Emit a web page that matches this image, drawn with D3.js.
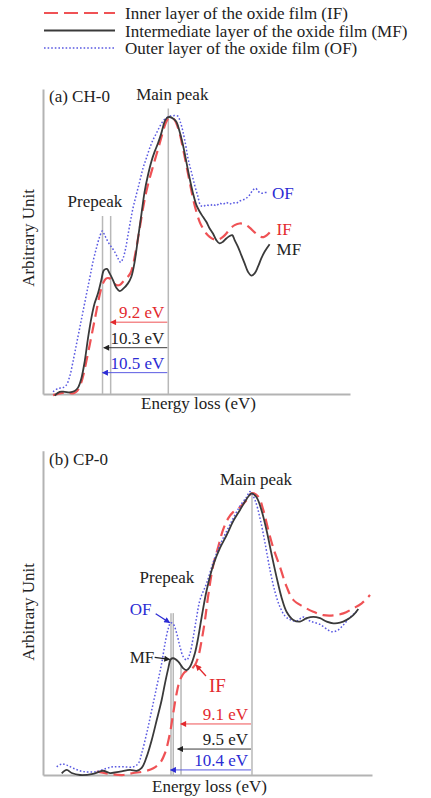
<!DOCTYPE html>
<html lang="en">
  <head>
    <meta charset="utf-8"/>
    <title>EELS prepeak / main peak</title>
    <script src="https://cdn.jsdelivr.net/npm/d3@7/dist/d3.min.js"></script>
    <style>
      body { margin: 0; background: #fff; }
      svg { display: block; }
      text { font-family: "Liberation Serif", "Times New Roman", serif; }
    </style>
  </head>
  <body>
    <div id="chart"></div>
    <script type="text/javascript">
     // ---- data (energy loss in eV, intensity normalised to the main peak) ----
     const seriesKeys = ["IF", "MF", "OF"];
     const legendLabels = ["Inner layer of the oxide film (IF)",
                           "Intermediate layer of the oxide film (MF)",
                           "Outer layer of the oxide film (OF)"];

     // (a) CH-0
     const ifA = [[1.60,-0.004],[2.66,0.002],[3.72,0.006],[4.79,0.002],[5.32,0.008],[5.85,0.026],[6.38,0.063],
                  [6.91,0.117],[7.45,0.177],[7.98,0.237],[8.51,0.297],[9.04,0.357],[9.57,0.399],[10.11,0.417],
                  [10.64,0.417],[11.17,0.405],[11.70,0.393],[12.23,0.393],[12.77,0.405],[13.30,0.417],[13.94,0.435],
                  [14.36,0.465],[14.89,0.525],[15.43,0.597],[15.96,0.670],[16.49,0.730],[17.02,0.778],[17.55,0.820],
                  [18.09,0.862],[18.62,0.904],[19.15,0.946],[19.57,0.976],[19.95,0.992],[20.37,0.997],[20.90,0.992],
                  [21.28,0.976],[21.81,0.940],[22.34,0.886],[22.87,0.826],[23.40,0.766],[23.94,0.706],[24.47,0.658],
                  [25.00,0.621],[25.53,0.597],[26.06,0.579],[26.60,0.567],[27.13,0.559],[27.66,0.555],[28.19,0.559],
                  [28.72,0.567],[29.26,0.579],[29.79,0.595],[30.59,0.609],[31.38,0.615],[32.18,0.612],[32.98,0.600],
                  [33.78,0.583],[34.57,0.569],[35.21,0.566],[35.74,0.573],[36.17,0.583]];
     const mfA = [[1.86,-0.006],[2.66,0.008],[3.46,0.008],[4.26,0.006],[5.05,0.011],[5.59,0.023],[6.12,0.056],
                  [6.65,0.117],[7.18,0.201],[7.71,0.273],[8.24,0.327],[8.78,0.363],[9.31,0.411],[9.73,0.447],
                  [10.21,0.451],[10.64,0.435],[11.17,0.411],[11.70,0.383],[12.23,0.371],[12.77,0.379],[13.56,0.399],
                  [14.10,0.423],[14.63,0.477],[15.16,0.561],[15.69,0.645],[16.22,0.730],[16.76,0.790],[17.29,0.838],
                  [17.82,0.874],[18.35,0.904],[18.88,0.940],[19.41,0.982],[19.79,0.996],[20.21,0.999],[20.85,0.992],
                  [21.28,0.982],[21.81,0.946],[22.34,0.898],[22.87,0.838],[23.40,0.778],[23.94,0.724],[24.47,0.682],
                  [25.00,0.658],[25.53,0.639],[26.06,0.621],[26.60,0.597],[27.13,0.579],[27.66,0.555],[28.19,0.543],
                  [28.72,0.549],[29.26,0.561],[29.79,0.570],[30.21,0.573],[30.59,0.555],[31.12,0.531],[31.65,0.501],
                  [32.18,0.471],[32.71,0.441],[33.24,0.427],[33.78,0.435],[34.31,0.459],[34.84,0.489],[35.37,0.513],
                  [36.17,0.540]];
     const ofA = [[1.60,0.008],[2.39,0.020],[3.19,0.023],[3.72,0.032],[4.26,0.063],[4.79,0.117],[5.32,0.177],
                  [5.85,0.237],[6.38,0.297],[6.91,0.357],[7.45,0.417],[7.98,0.477],[8.51,0.525],[9.04,0.567],
                  [9.47,0.588],[9.84,0.573],[10.37,0.549],[10.90,0.531],[11.44,0.513],[11.97,0.489],[12.39,0.475],
                  [12.77,0.489],[13.19,0.525],[13.56,0.573],[13.94,0.621],[14.36,0.670],[14.89,0.718],[15.43,0.766],
                  [15.96,0.814],[16.49,0.850],[17.02,0.886],[17.55,0.916],[18.09,0.940],[18.62,0.964],[19.15,0.984],
                  [19.68,0.996],[20.21,1.002],[21.01,1.004],[21.54,1.002],[21.91,0.982],[22.34,0.946],[22.77,0.898],
                  [23.14,0.850],[23.67,0.802],[24.20,0.754],[24.73,0.712],[25.11,0.682],[25.53,0.676],[26.06,0.682],
                  [26.60,0.679],[27.13,0.684],[27.66,0.679],[28.19,0.688],[28.72,0.684],[29.26,0.691],[29.79,0.685],
                  [30.32,0.690],[30.85,0.688],[31.38,0.696],[31.91,0.700],[32.45,0.706],[32.98,0.718],[33.51,0.736],
                  [33.94,0.742],[34.31,0.732],[34.84,0.724],[35.37,0.727],[35.74,0.727]];
     const mainPeakA = 20.0;
     const shiftsA = [9.2, 10.3, 10.5];        // IF, MF, OF
     const guidesA = [9.5, 10.8];

     // (b) CP-0
     const ifB = [[6.86,0.012],[8.55,0.004],[10.25,0.000],[11.53,0.007],[12.80,0.012],[14.08,0.024],[14.94,0.043],
                  [15.58,0.078],[16.21,0.149],[16.63,0.220],[17.07,0.291],[17.49,0.337],[18.13,0.366],[18.77,0.372],
                  [19.40,0.390],[19.83,0.420],[20.26,0.479],[20.68,0.550],[21.10,0.638],[21.74,0.745],[22.38,0.810],
                  [22.98,0.869],[23.66,0.911],[24.30,0.933],[25.15,0.950],[26.00,0.975],[26.64,0.999],[27.49,0.987],
                  [28.12,0.940],[28.76,0.869],[29.40,0.805],[30.25,0.738],[31.11,0.667],[31.95,0.621],[33.23,0.597],
                  [34.51,0.579],[35.78,0.567],[37.06,0.566],[38.34,0.573],[39.61,0.591],[40.69,0.609],[41.75,0.638]];
     const mfB = [[2.39,0.006],[3.03,0.018],[3.66,0.007],[4.72,0.000],[6.38,0.004],[7.66,0.015],[8.55,0.007],
                  [9.83,0.012],[11.11,0.018],[11.96,0.015],[12.60,0.025],[13.24,0.065],[13.88,0.124],[14.52,0.195],
                  [15.15,0.266],[15.58,0.326],[16.00,0.379],[16.30,0.410],[16.63,0.414],[17.27,0.402],[17.91,0.378],
                  [18.35,0.372],[18.77,0.384],[19.40,0.433],[19.83,0.490],[20.26,0.561],[20.90,0.656],[21.74,0.745],
                  [22.60,0.805],[23.45,0.851],[24.30,0.901],[25.15,0.940],[26.00,0.979],[26.64,0.999],[27.28,0.984],
                  [27.92,0.936],[28.56,0.865],[29.20,0.780],[29.84,0.699],[30.47,0.628],[31.11,0.578],[31.95,0.550],
                  [32.81,0.544],[33.66,0.556],[34.51,0.561],[35.36,0.556],[36.22,0.544],[37.06,0.538],[37.92,0.540],
                  [38.77,0.550],[39.61,0.567],[40.25,0.589]];
     const ofB = [[1.75,0.029],[2.39,0.039],[3.03,0.035],[3.87,0.024],[5.14,0.012],[6.86,0.012],[8.13,0.024],
                  [8.97,0.029],[10.25,0.029],[11.53,0.029],[12.17,0.041],[12.60,0.077],[13.24,0.148],[13.88,0.230],
                  [14.52,0.313],[15.15,0.396],[15.58,0.467],[16.00,0.520],[16.30,0.540],[16.63,0.535],[17.07,0.502],
                  [17.49,0.455],[17.91,0.419],[18.35,0.408],[18.77,0.432],[19.19,0.490],[19.62,0.561],[20.04,0.621],
                  [20.90,0.681],[21.74,0.755],[22.60,0.816],[23.45,0.865],[24.30,0.911],[25.15,0.954],[26.00,0.986],
                  [26.43,1.005],[27.06,0.975],[27.70,0.911],[28.34,0.823],[28.98,0.727],[29.62,0.649],[30.25,0.596],
                  [30.89,0.564],[31.53,0.551],[32.39,0.546],[33.23,0.560],[34.09,0.546],[35.36,0.534],[36.86,0.508],
                  [37.66,0.514],[38.34,0.532],[39.19,0.559],[40.04,0.579]];
     const mainPeakB = 26.68;
     const shiftsB = [9.1, 9.5, 10.4];         // IF, MF, OF
     const guidesB = [16.34, 16.63, 17.62];
     const prepeakPointsB = [19.40, 16.30, 16.30];  // where the IF / MF / OF labels point

     // ---- styles ----
     const stroke = { IF: "#ef5255", MF: "#3a3a3a", OF: "#5a5ae2" };
     const ink    = { IF: "#e32a2e", MF: "#222222", OF: "#2c2cd4" };
     const dash   = { IF: "11,6", MF: null, OF: "1.6,2" };
     const width  = { IF: 2.2, MF: 1.8, OF: 1.5 };
     const fontSize = 17;

     const svg = d3.select("#chart").append("svg")
                   .attr("width", 431)
                   .attr("height", 798);

     // arrow heads, one per colour
     const defs = svg.append("defs");
     seriesKeys.forEach(k => {
         defs.append("marker")
             .attr("id", "arrow-" + k)
             .attr("viewBox", "0 0 10 10")
             .attr("refX", 9).attr("refY", 5)
             .attr("markerWidth", 7).attr("markerHeight", 6)
             .attr("markerUnits", "userSpaceOnUse")
             .attr("orient", "auto")
             .append("path")
             .attr("d", "M0,0L10,5L0,10z")
             .attr("fill", ink[k]);
     });

     // ---- legend ----
     let legend = svg.append("g");
     seriesKeys.forEach((k, i) => {
         let yy = 13 + i * 17.5;
         legend.append("line")
               .attr("x1", 44).attr("x2", 115)
               .attr("y1", yy).attr("y2", yy)
               .attr("stroke", stroke[k])
               .attr("stroke-width", k === "OF" ? 1.5 : 2)
               .attr("stroke-dasharray", k === "IF" ? "14,6" : dash[k]);
         legend.append("text")
               .attr("x", 125).attr("y", yy + 6)
               .attr("font-size", fontSize)
               .attr("fill", "#222")
               .text(legendLabels[i]);
     });

     function drawPanel(p) {
         let x = d3.scaleLinear().domain(p.xDomain).range(p.xRange),
             y = d3.scaleLinear().domain(p.yDomain).range(p.yRange);
         let g = svg.append("g");

         // axes, no ticks
         let xAxis = g.append("g")
                      .attr("transform", `translate(0, ${p.yRange[0]})`)
                      .call(d3.axisBottom(x).tickValues([]).tickSizeOuter(0));
         let yAxis = g.append("g")
                      .attr("transform", `translate(${p.xRange[0]}, 0)`)
                      .call(d3.axisLeft(y).tickValues([]).tickSizeOuter(0));
         g.selectAll(".domain").attr("stroke", "#b3b3b3").attr("stroke-width", 2);

         // grey guide lines
         p.guides.forEach((ev, i) => {
             g.append("line")
              .attr("x1", x(ev)).attr("x2", x(ev))
              .attr("y1", y(0)).attr("y2", y(p.guideTops[i]))
              .attr("stroke", "#b8b8b8").attr("stroke-width", 1.5);
         });
         g.append("line")
          .attr("x1", x(p.main)).attr("x2", x(p.main))
          .attr("y1", y(0)).attr("y2", y(p.mainTop))
          .attr("stroke", "#b8b8b8").attr("stroke-width", 1.5);

         // energy separation arrows
         p.shifts.forEach((d, i) => {
             let k = seriesKeys[i];
             g.append("line")
              .attr("x1", x(p.main) - 1).attr("x2", x(p.main - d))
              .attr("y1", y(p.levels[i])).attr("y2", y(p.levels[i]))
              .attr("stroke", stroke[k])
              .attr("stroke-width", 1)
              .attr("marker-end", `url(#arrow-${k})`);
             g.append("text")
              .attr("x", x(p.main) - 4)
              .attr("y", y(p.levels[i]) - 4)
              .attr("text-anchor", "end")
              .attr("font-size", fontSize)
              .attr("fill", ink[k])
              .text(d.toFixed(1) + " eV");
         });

         // spectra
         let line = d3.line()
                      .x(d => x(d[0]))
                      .y(d => y(d[1]))
                      .curve(d3.curveCatmullRom.alpha(0.5));
         ["IF", "OF", "MF"].forEach(k => {
             g.append("path")
              .datum(p.series[k])
              .attr("fill", "none")
              .attr("stroke", stroke[k])
              .attr("stroke-width", width[k])
              .attr("stroke-dasharray", dash[k])
              .attr("d", line);
         });

         // texts
         g.append("text").attr("x", p.xRange[0] + 6).attr("y", p.titleY)
          .attr("font-size", fontSize).attr("fill", "#222").text(p.title);
         g.append("text").attr("x", x(p.main) + 4).attr("y", y(p.mainTop) - 8)
          .attr("text-anchor", "middle")
          .attr("font-size", fontSize).attr("fill", "#222").text("Main peak");
         g.append("text").attr("x", x(p.prepeakLabel[0])).attr("y", y(p.prepeakLabel[1]))
          .attr("text-anchor", "middle")
          .attr("font-size", fontSize).attr("fill", "#222").text("Prepeak");
         g.append("text")
          .attr("x", (p.xRange[0] + p.xRange[1]) / 2 + 2)
          .attr("y", p.yRange[0] + p.xLabelGap)
          .attr("text-anchor", "middle")
          .attr("font-size", fontSize).attr("fill", "#222").text("Energy loss (eV)");
         g.append("text")
          .attr("transform", `translate(34, ${p.yLabelY}) rotate(-90)`)
          .attr("text-anchor", "middle")
          .attr("font-size", fontSize).attr("fill", "#222").text("Arbitrary Unit");

         p.curveLabels(g, x, y);
     }

     drawPanel({
         title: "(a) CH-0", titleY: 102,
         xDomain: [0, 49], xRange: [43, 350],
         yDomain: [0, 1.1], yRange: [394, 89],
         series: { IF: ifA, MF: mfA, OF: ofA },
         main: mainPeakA, mainTop: 1.03,
         guides: guidesA, guideTops: [0.642, 0.642],
         shifts: shiftsA, levels: [0.259, 0.167, 0.077],
         prepeakLabel: [8.3, 0.674],
         xLabelGap: 15, yLabelY: 238,
         curveLabels: (g, x, y) => {
             // labels at the right end of each spectrum
             let offs = { OF: [5, 7], IF: [7, 3], MF: [7, 11] };
             seriesKeys.forEach(k => {
                 let s = { IF: ifA, MF: mfA, OF: ofA }[k],
                     last = s[s.length - 1];
                 g.append("text")
                  .attr("x", x(last[0]) + offs[k][0])
                  .attr("y", y(last[1]) + offs[k][1])
                  .attr("font-size", fontSize)
                  .attr("fill", ink[k])
                  .text(k);
             });
         }
     });

     drawPanel({
         title: "(b) CP-0", titleY: 465,
         xDomain: [0, 42], xRange: [43, 372],
         yDomain: [0, 1.15], yRange: [775, 450.7],
         series: { IF: ifB, MF: mfB, OF: ofB },
         main: mainPeakB, mainTop: 1.0,
         guides: guidesB, guideTops: [0.574, 0.574, 0.39],
         shifts: shiftsB, levels: [0.181, 0.092, 0.018],
         prepeakLabel: [15.83, 0.681],
         xLabelGap: 17, yLabelY: 612,
         curveLabels: (g, x, y) => {
             // [text dx, text dy, arrow-start dx, arrow-start dy, font size]
             let offs = { IF: [14, 27, 11, 11, 19], MF: [-41, 4, -16, -2, fontSize], OF: [-41, -8, -15, -9, fontSize] };
             let src = { IF: ifB, MF: mfB, OF: ofB };
             seriesKeys.forEach((k, i) => {
                 let pt = src[k].find(d => d[0] === prepeakPointsB[i]),
                     px = x(pt[0]), py = y(pt[1]), o = offs[k];
                 g.append("line")
                  .attr("x1", px + o[2]).attr("y1", py + o[3])
                  .attr("x2", px - (o[2] > 0 ? -1 : 1)).attr("y2", py)
                  .attr("stroke", ink[k]).attr("stroke-width", 1.3)
                  .attr("marker-end", `url(#arrow-${k})`);
                 g.append("text")
                  .attr("x", px + o[0]).attr("y", py + o[1])
                  .attr("font-size", o[4])
                  .attr("fill", ink[k])
                  .text(k);
             });
         }
     });
    </script>
  </body>
</html>
